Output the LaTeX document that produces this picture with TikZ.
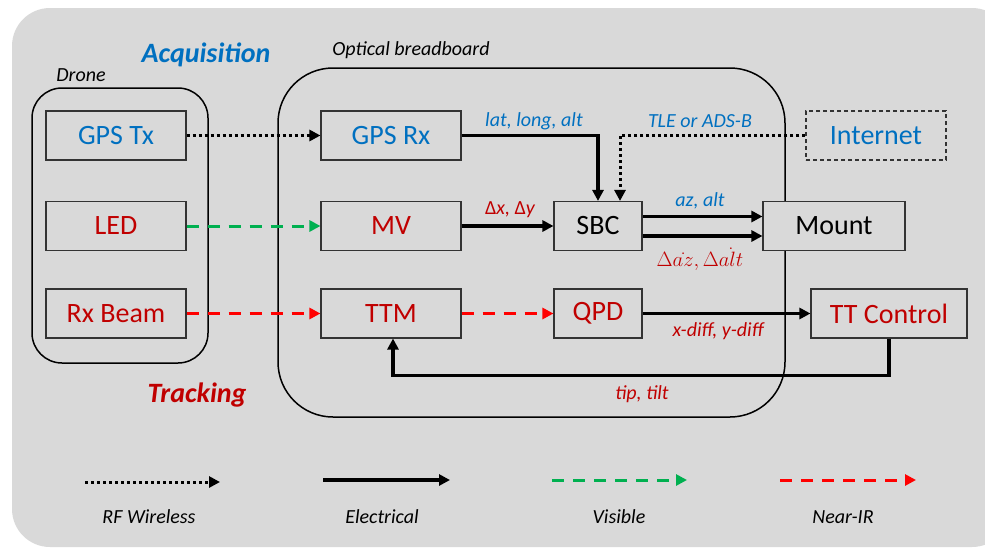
\documentclass[tikz,border=0pt]{standalone}
\usepackage{fontspec}
\setmainfont{Carlito}
\usetikzlibrary{arrows.meta}
\definecolor{bg}{HTML}{D9D9D9}
\definecolor{myblue}{HTML}{0070C0}
\definecolor{myred}{HTML}{C00000}
\definecolor{nirred}{HTML}{FF0000}
\definecolor{visgreen}{HTML}{00B050}
\tikzset{
  box/.style={draw=black!80, line width=1.1pt, fill=bg, minimum width=140pt, minimum height=49pt, inner sep=0pt, font=\fontsize{28}{30}\selectfont},
  tip/.style={-{Triangle[length=11pt,width=11pt]}},
  elec/.style={tip, line width=3.3pt, black},
  rf/.style={tip, line width=3pt, black, dash pattern=on 3pt off 3pt},
  vis/.style={tip, line width=3pt, visgreen, dash pattern=on 12pt off 9pt},
  nir/.style={tip, line width=3pt, nirred, dash pattern=on 12pt off 9pt},
  lbl/.style={font=\fontsize{20}{22}\selectfont\itshape, inner sep=0pt},
  grp/.style={draw=black, line width=1.5pt},
}
\begin{document}
\begin{tikzpicture}[x=1pt,y=-1pt]
\useasboundingbox (0,0) rectangle (985,549);
\clip (0,0) rectangle (985,549);
\fill[bg, rounded corners=38pt] (12,8) rectangle (1010,547);

% groups
\draw[grp, rounded corners=30pt] (32,88) rectangle (208,363);
\draw[grp, rounded corners=55pt] (278,68) rectangle (785,417);
\node[lbl] (dronelbl) at (81,75) {Drone};
\node[lbl] (oblbl) at (411,50) {Optical breadboard};
\node[font=\fontsize{28}{30}\selectfont\bfseries\itshape, text=myblue, inner sep=0pt] (acq) at (206,55) {Acquisition};
\node[font=\fontsize{28}{30}\selectfont\bfseries\itshape, text=myred, inner sep=0pt] (trk) at (197,395) {Tracking};

% boxes
\node[box, text=myblue] (gpstx) at (116,135.5) {GPS Tx};
\node[box, text=myred] (led) at (116,226) {LED};
\node[box, text=myred] (rxbeam) at (116,313.5) {Rx Beam};
\node[box, text=myblue] (gpsrx) at (391,135.5) {GPS Rx};
\node[box, text=myred] (mv) at (391,226) {MV};
\node[box, text=myred] (ttm) at (391,313.5) {TTM};
\node[box, minimum width=88pt] (sbc) at (598,226) {SBC};
\node[box, text=myred, minimum width=88pt] (qpd) at (598,313.5) {QPD};
\node[box, minimum width=142pt] (mount) at (834,226) {Mount};
\node[box, text=myblue, dash pattern=on 4pt off 3pt] (inet) at (876,135.5) {Internet};
\node[box, text=myred, minimum width=156pt] (ttc) at (889,313.5) {TT Control};

% connectors
\draw[rf] (gpstx) -- (gpsrx);
\draw[vis] (led) -- (mv);
\draw[nir] (rxbeam) -- (ttm);
\draw[nir] (ttm) -- (qpd);
\draw[elec] (gpsrx.east) -| (sbc.north);
\draw[rf] (inet.west) -| ([xshift=22pt]sbc.north);
\draw[elec] (mv) -- (sbc);
\draw[elec] ([yshift=9.5pt]sbc.east) -- ([yshift=9.5pt]mount.west);
\draw[elec] ([yshift=-10pt]sbc.east) -- ([yshift=-10pt]mount.west);
\draw[elec] (qpd) -- (ttc);
\draw[elec] (ttc.south) -- ++(0,37) -| ([xshift=2pt]ttm.south);

% labels
\node[lbl, text=myblue] (l1) at (534,121) {lat, long, alt};
\node[lbl, text=myblue] (l2) at (700,121) {TLE or ADS-B};
\node[lbl, text=myred] (l3) at (510,210) {{\upshape Δ}x, {\upshape Δ}y};
\node[lbl, text=myblue] (l4) at (700,201) {az, alt};
\node[inner sep=0pt, text=myred, font=\fontsize{21}{23}\selectfont] (l5) at (700,259) {$\Delta\dot{az},\Delta\dot{alt}$};
\node[lbl, text=myred] (l6) at (718,331) {x-diff, y-diff};
\node[lbl, text=myred] (l7) at (642,394) {tip, tilt};

% legend
\coordinate (a1) at (85,482); \coordinate (a2) at (220,482);
\coordinate (b1) at (323,480); \coordinate (b2) at (450,480);
\coordinate (c1) at (552,480); \coordinate (c2) at (687,480);
\coordinate (d1) at (780,480); \coordinate (d2) at (916,480);
\draw[rf] (a1) -- (a2);
\draw[elec] (b1) -- (b2);
\draw[vis] (c1) -- (c2);
\draw[nir] (d1) -- (d2);
\node[lbl] (t1) at (149,517) {RF Wireless};
\node[lbl] (t2) at (382,517) {Electrical};
\node[lbl] (t3) at (619,517) {Visible};
\node[lbl] (t4) at (843,517) {Near-IR};
\end{tikzpicture}
\end{document}
